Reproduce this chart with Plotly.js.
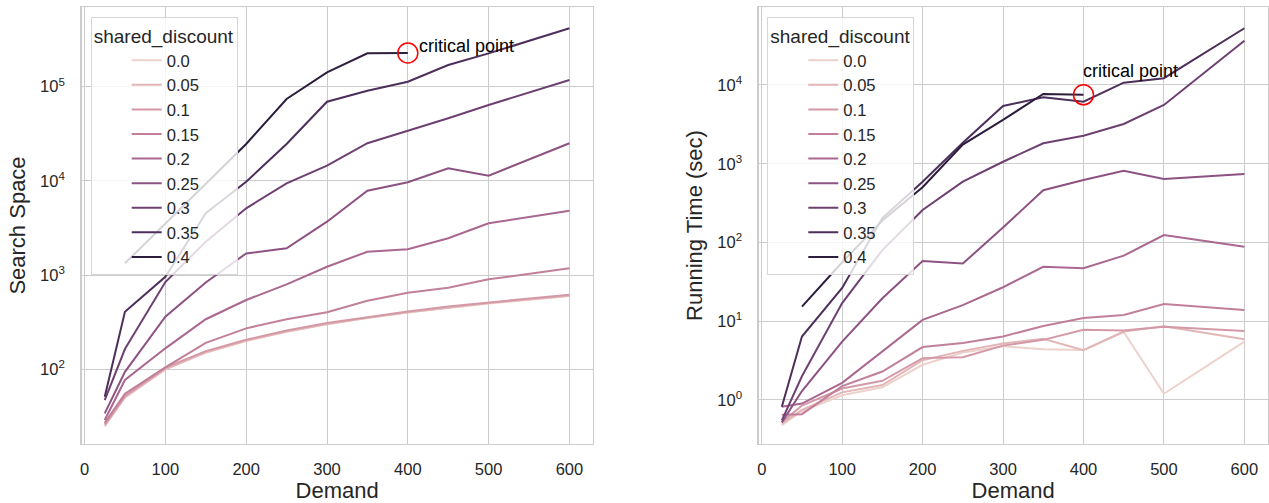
<!DOCTYPE html>
<html>
<head>
<meta charset="utf-8">
<script src="https://cdn.plot.ly/plotly-3.0.1.min.js"></script>
<style>html,body{margin:0;padding:0;background:#fff;}#chart{width:1269px;height:503px;}</style>
</head>
<body>
<div id="chart"></div>
<script>
// ---------------- DATA ----------------
const demand = [25, 50, 100, 150, 200, 250, 300, 350, 400, 450, 500, 600];
const levelNames = ['0.0', '0.05', '0.1', '0.15', '0.2', '0.25', '0.3', '0.35', '0.4'];
const levelValues = [0, 0.05, 0.1, 0.15, 0.2, 0.25, 0.3, 0.35, 0.4];

// Search space (left panel)
const ss_000 = [25, 50, 100, 150, 200, 250, 300, 350, 400, 450, 500, 600];
const ss_005 = [25, 51, 100, 152, 202, 252, 302, 352, 402, 452, 505, 605];
const ss_010 = [26, 52, 104, 156, 206, 258, 310, 358, 410, 465, 515, 620];
const ss_015 = [27, 55, 105, 191, 272, 340, 403, 535, 650, 735, 902, 1180];
const ss_020 = [29, 77, 167, 340, 544, 798, 1227, 1772, 1878, 2458, 3548, 4830];
const ss_025 = [34, 94, 362, 834, 1700, 1925, 3690, 7870, 9660, 13600, 11350, 25100];
const ss_030 = [47, 164, 843, 2260, 5120, 9430, 14500, 25100, 34100, 46200, 63900, 117900];
const ss_035 = [51, 408, 960, 4530, 9810, 24650, 69300, 90700, 113000, 170000, 226000, 417000];
const ss_040 = [null, 1334, 3548, 9430, 24650, 74000, 142000, 226000, 228000, null, null, null];

// Running time in seconds (right panel)
const rt_000 = [0.48, 0.72, 1.15, 1.45, 2.8, 4.0, 4.8, 4.4, 4.3, 7.3, 1.2, 5.5];
const rt_005 = [0.5, 0.75, 1.25, 1.55, 3.2, 4.2, 5.2, 6.0, 4.3, 7.4, 8.6, 5.9];
const rt_010 = [0.52, 0.85, 1.4, 1.75, 3.4, 3.5, 4.9, 5.8, 7.8, 7.6, 8.5, 7.5];
const rt_015 = [0.65, 0.66, 1.5, 2.3, 4.7, 5.3, 6.4, 8.7, 11, 12, 16.5, 13.9];
const rt_020 = [0.82, 0.9, 1.65, 4.1, 10.4, 16, 27, 49, 47, 68, 124, 88];
const rt_025 = [0.52, 1.3, 5.5, 19.6, 58, 54, 155, 460, 620, 815, 640, 740];
const rt_030 = [0.55, 2.0, 17, 80, 259, 592, 1060, 1820, 2270, 3200, 5570, 36500];
const rt_035 = [0.82, 6.4, 26.5, 205, 592, 1850, 5400, 7000, 6140, 10700, 12200, 52500];
const rt_040 = [null, 15.3, 56, 190, 502, 1750, 3600, 7700, 7500, null, null, null];

const searchSeries = [ss_000, ss_005, ss_010, ss_015, ss_020, ss_025, ss_030, ss_035, ss_040];
const timeSeries = [rt_000, rt_005, rt_010, rt_015, rt_020, rt_025, rt_030, rt_035, rt_040];

const xTicks = [0, 100, 200, 300, 400, 500, 600];
const ssTicks = [100, 1000, 10000, 100000];
const rtTicks = [1, 10, 100, 1000, 10000];

const criticalLevelIndex = 8;   // series 0.4
const criticalDemand = 400;
const annotationText = 'critical point';

// ---------------- STYLE ----------------
function cubehelix(x) {
  const start = 0, rot = 0.4, gamma = 1, hue = 0.8;
  const xg = Math.pow(x, gamma);
  const a = hue * xg * (1 - xg) / 2;
  const phi = 2 * Math.PI * (start / 3 + rot * x);
  const f = (p0, p1) => Math.min(1, Math.max(0, xg + a * (p0 * Math.cos(phi) + p1 * Math.sin(phi))));
  const r = f(-0.14861, 1.78277), g = f(-0.29227, -0.90649), b = f(1.97294, 0);
  return 'rgb(' + Math.round(r * 255) + ',' + Math.round(g * 255) + ',' + Math.round(b * 255) + ')';
}
const vmax = Math.max.apply(null, levelValues);
const colors = levelValues.map(v => cubehelix(0.85 - 0.7 * (v / vmax)));

const FONT = 'Liberation Sans, Arial, Helvetica, sans-serif';
const TXT = '#262626';
const GRID = '#cccccc';
const supText = v => '10<sup>' + Math.round(Math.log10(v)) + '</sup>';

const traces = [];
searchSeries.forEach((ys, i) => {
  traces.push({
    x: demand, y: ys, type: 'scatter', mode: 'lines', name: levelNames[i],
    line: {color: colors[i], width: 2}, xaxis: 'x', yaxis: 'y', legend: 'legend',
    connectgaps: false, hoverinfo: 'skip'
  });
});
timeSeries.forEach((ys, i) => {
  traces.push({
    x: demand, y: ys, type: 'scatter', mode: 'lines', name: levelNames[i],
    line: {color: colors[i], width: 2}, xaxis: 'x2', yaxis: 'y2', legend: 'legend2',
    connectgaps: false, hoverinfo: 'skip'
  });
});
const ci = demand.indexOf(criticalDemand);
const critSS = searchSeries[criticalLevelIndex][ci];
const critRT = timeSeries[criticalLevelIndex][ci];
traces.push({x: [criticalDemand], y: [critSS], type: 'scatter', mode: 'markers', showlegend: false,
  marker: {symbol: 'circle-open', size: 20, color: 'red', line: {width: 1.5, color: 'red'}}, xaxis: 'x', yaxis: 'y', hoverinfo: 'skip'});
traces.push({x: [criticalDemand], y: [critRT], type: 'scatter', mode: 'markers', showlegend: false,
  marker: {symbol: 'circle-open', size: 20, color: 'red', line: {width: 1.5, color: 'red'}}, xaxis: 'x2', yaxis: 'y2', hoverinfo: 'skip'});

const W = 1269;
function xAxis(domain) {
  return {
    domain: domain, range: [-3.75, 628.75], tickvals: xTicks, ticktext: xTicks.map(String),
    showgrid: true, gridcolor: GRID, gridwidth: 1, zeroline: false,
    showline: true, mirror: true, linecolor: GRID, linewidth: 1.3, ticks: '',
    ticklabelstandoff: 10, tickfont: {family: FONT, size: 16.5, color: TXT},
    title: {text: 'Demand', font: {family: FONT, size: 22, color: TXT}, standoff: 6},
    automargin: false
  };
}
function yAxis(range, ticks, title, anchor) {
  return {
    type: 'log', range: range, tickvals: ticks, ticktext: ticks.map(supText), anchor: anchor,
    showgrid: true, gridcolor: GRID, gridwidth: 1, zeroline: false,
    showline: true, mirror: true, linecolor: GRID, linewidth: 1.3, ticks: '',
    ticklabelstandoff: 12, tickfont: {family: FONT, size: 16.5, color: TXT},
    title: {text: title, font: {family: FONT, size: 22, color: TXT}, standoff: 8},
    automargin: false
  };
}
function legendCfg(xpx) {
  return {
    x: xpx / W, y: 1 - (17.3 - 7) / 437, xanchor: 'left', yanchor: 'top',
    bgcolor: 'rgba(255,255,255,0.8)', bordercolor: '#d6d6d6', borderwidth: 1,
    font: {family: FONT, size: 16.6, color: TXT},
    title: {text: 'shared_discount', font: {family: FONT, size: 19, color: TXT}},
    indentation: 35, tracegroupgap: 0
  };
}

const layout = {
  width: 1269, height: 503,
  margin: {l: 0, r: 0, t: 7, b: 59},
  paper_bgcolor: '#ffffff', plot_bgcolor: '#ffffff',
  showlegend: true,
  xaxis: xAxis([81.5 / W, 592.7 / W]),
  yaxis: yAxis([1.207, 5.846], ssTicks, 'Search Space', 'x'),
  xaxis2: Object.assign(xAxis([758.7 / W, 1267.5 / W]), {anchor: 'y2'}),
  yaxis2: yAxis([-0.559, 4.99], rtTicks, 'Running Time (sec)', 'x2'),
  legend: legendCfg(90.7),
  legend2: legendCfg(767.3),
  annotations: [
    {x: criticalDemand, y: Math.log10(critSS), xref: 'x', yref: 'y', text: annotationText, showarrow: false,
     xanchor: 'left', yanchor: 'middle', xshift: 9, yshift: 7, font: {family: FONT, size: 18, color: '#000'}},
    {x: criticalDemand, y: Math.log10(critRT), xref: 'x2', yref: 'y2', text: annotationText, showarrow: false,
     xanchor: 'left', yanchor: 'middle', xshift: -2, yshift: 24, font: {family: FONT, size: 18, color: '#000'}}
  ]
};

Plotly.newPlot('chart', traces, layout, {staticPlot: true, displayModeBar: false});
</script>
</body>
</html>
